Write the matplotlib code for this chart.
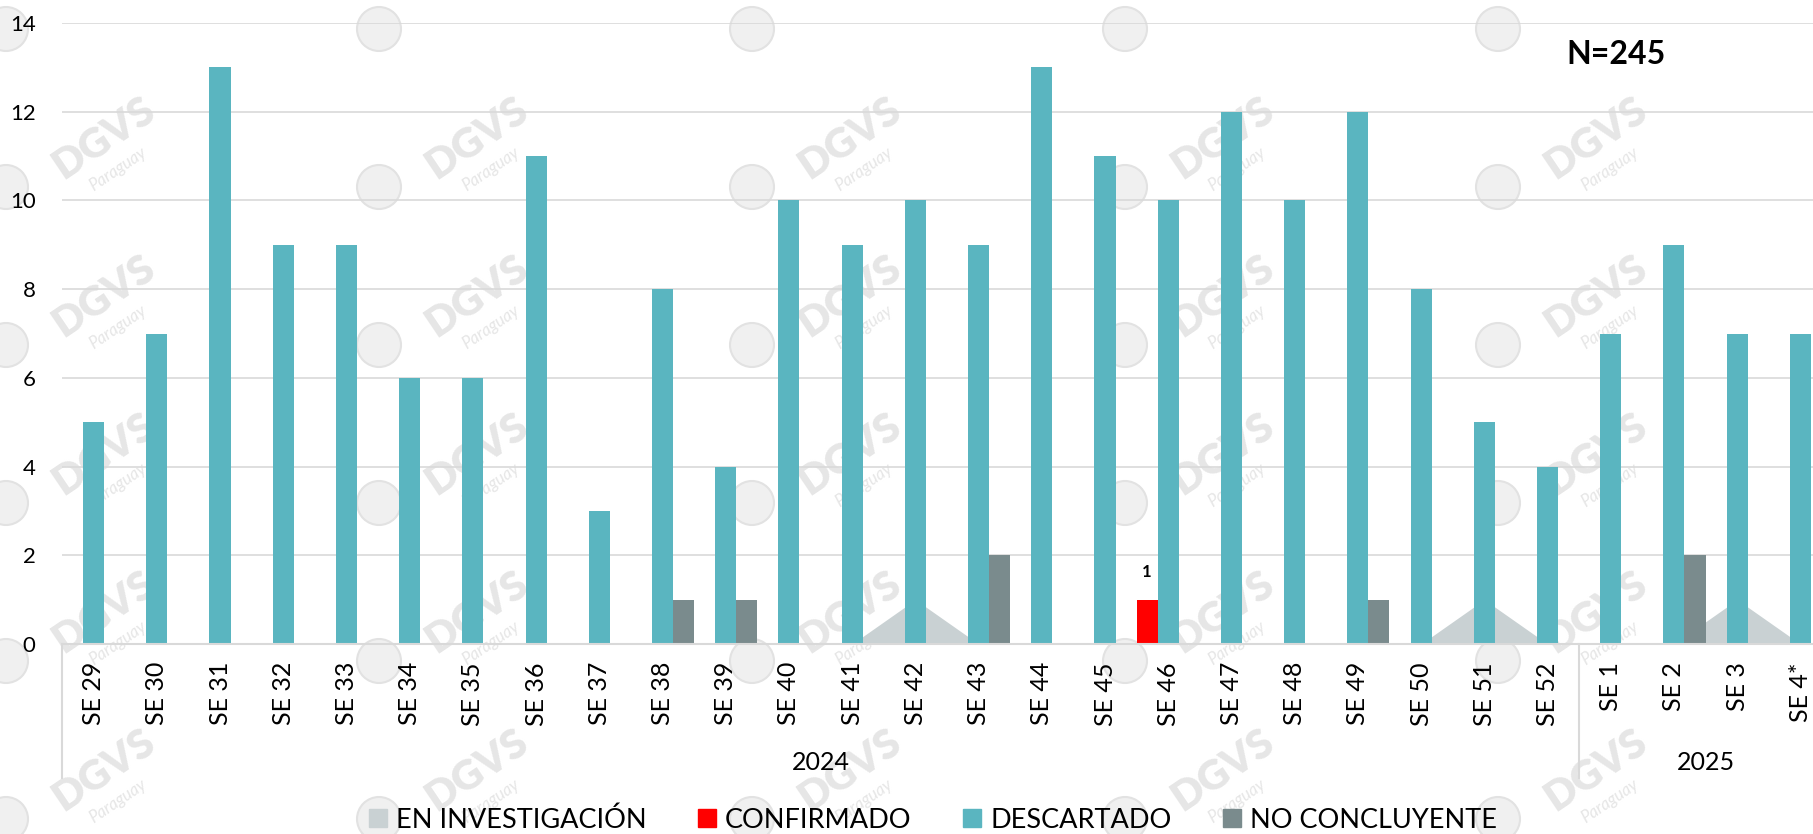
import numpy as np
import matplotlib
matplotlib.use("Agg")
import matplotlib.pyplot as plt
import matplotlib.transforms as mtransforms
from matplotlib.patches import Patch, Ellipse

plt.rcParams['font.family'] = ['Lato', 'DejaVu Sans']

weeks = ["SE 29", "SE 30", "SE 31", "SE 32", "SE 33", "SE 34", "SE 35", "SE 36",
         "SE 37", "SE 38", "SE 39", "SE 40", "SE 41", "SE 42", "SE 43", "SE 44",
         "SE 45", "SE 46", "SE 47", "SE 48", "SE 49", "SE 50", "SE 51", "SE 52",
         "SE 1", "SE 2", "SE 3", "SE 4*"]
years = ["2024", "2025"]
year_sizes = [24, 4]

en_investigacion = [0, 0, 0, 0, 0, 0, 0, 0, 0, 0, 0, 0, 0, 1, 0, 0, 0, 0, 0, 0, 0, 0, 1, 0, 0, 0, 1, 0]
confirmado = [0, 0, 0, 0, 0, 0, 0, 0, 0, 0, 0, 0, 0, 0, 0, 0, 0, 1, 0, 0, 0, 0, 0, 0, 0, 0, 0, 0]
descartado = [5, 7, 13, 9, 9, 6, 6, 11, 3, 8, 4, 10, 9, 10, 9, 13, 11, 10, 12, 10, 12, 8, 5, 4, 7, 9, 7, 7]
no_concluyente = [0, 0, 0, 0, 0, 0, 0, 0, 0, 1, 1, 0, 0, 0, 2, 0, 0, 0, 0, 0, 1, 0, 0, 0, 0, 2, 0, 0]

C_INV = "#C9D1D3"
C_CONF = "#FF0000"
C_DESC = "#5AB5C0"
C_NOC = "#7A8B8D"

W, H = 1813, 834
fig = plt.figure(figsize=(W / 100, H / 100), dpi=100)
fig.patch.set_facecolor("white")

# watermark tiles (DGVS Paraguay logo), behind everything
for row in range(6):
    for col in range(5):
        gx = 6 + col * 373
        gy = 29 + row * 158
        fig.add_artist(Ellipse((gx / W, 1 - gy / H), 44 / W, 44 / H, transform=fig.transFigure,
                               facecolor="#F0F0F0", edgecolor="#E2E2E2", lw=1.5, zorder=-2))
        if row == 0:
            continue
        fig.text((gx + 98) / W, 1 - (gy - 49) / H, "DGVS", rotation=34, fontsize=30,
                 fontweight="heavy", color="#E6E6E6", ha="center", va="center", zorder=-2)
        fig.text((gx + 112) / W, 1 - (gy - 18) / H, "Paraguay", rotation=34, fontsize=12,
                 style="italic", color="#E6E6E6", ha="center", va="center", zorder=-2)

left = 62 / W
bottom = 1 - 644 / H
top = 1 - 23 / H
ax = fig.add_axes([left, bottom, 1 - left, top - bottom])
ax.patch.set_alpha(0)

x = np.arange(len(weeks))
bw = 1 / 3
ax.fill_between(x, 0, en_investigacion, color=C_INV, lw=0, zorder=1)
ax.bar(x - bw, confirmado, bw, color=C_CONF, zorder=2)
ax.bar(x, descartado, bw, color=C_DESC, zorder=2)
ax.bar(x + bw, no_concluyente, bw, color=C_NOC, zorder=2)

for i, v in enumerate(confirmado):
    if v > 0:
        ax.annotate(str(v), (x[i] - bw, v), xytext=(0, 14), textcoords="offset points",
                    ha="center", va="bottom", fontsize=12, fontweight="bold")

ax.set_xlim(-0.5, 27.2)
ax.set_ylim(0, 14)
ax.set_yticks(range(0, 15, 2))
ax.grid(axis="y", color="#D9D9D9", lw=1.2, zorder=0)
ax.set_axisbelow(True)
for s in ["top", "right", "left"]:
    ax.spines[s].set_visible(False)
ax.spines["bottom"].set_color("#D9D9D9")
ax.spines["bottom"].set_linewidth(1.5)
ax.tick_params(axis="y", length=0, pad=19, labelsize=16)
ax.set_xticks(x)
ax.set_xticklabels(weeks, rotation=90, fontsize=18)
ax.tick_params(axis="x", length=0, pad=13)

# year grouping
trans = mtransforms.blended_transform_factory(ax.transData, ax.transAxes)
line_bot = -(778 - 644) / (644 - 23)
start = 0
bounds = [-0.5]
for name, n in zip(years, year_sizes):
    ax.text(start + (n - 1) / 2, -(762 - 644) / (644 - 23), name, transform=trans,
            ha="center", va="center", fontsize=18)
    start += n
    bounds.append(start - 0.5)
for b in bounds:
    ax.plot([b, b], [0, line_bot], transform=trans, color="#D9D9D9", lw=1.5, clip_on=False)

fig.text(1616 / W, 1 - 55 / H, "N=245", fontsize=23, fontweight="bold", ha="center", va="center")

handles = [Patch(color=C_INV), Patch(color=C_CONF), Patch(color=C_DESC), Patch(color=C_NOC)]
labels = ["EN INVESTIGACIÓN", "CONFIRMADO", "DESCARTADO", "NO CONCLUYENTE"]
fig.legend(handles, labels, loc="center", bbox_to_anchor=(933 / W, 1 - 820 / H), ncol=4,
           frameon=False, fontsize=19.5, handlelength=0.65, handleheight=0.65,
           handletextpad=0.35, columnspacing=1.9)

fig.savefig("out.png", dpi=100)
